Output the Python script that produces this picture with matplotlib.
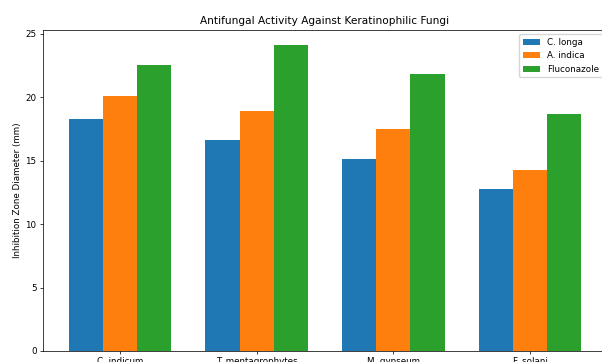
import matplotlib
matplotlib.use("Agg")
import matplotlib.pyplot as plt
import numpy as np

categories = ["C. indicum", "T. mentagrophytes", "M. gypseum", "F. solani"]
c_longa = [18.3, 16.6, 15.1, 12.8]
a_indica = [20.1, 18.9, 17.5, 14.3]
fluconazole = [22.55, 24.1, 21.8, 18.7]

s = 0.66
f = 0.63
plt.rcParams.update({
    "font.size": 10 * f,
    "axes.linewidth": 0.8 * s,
    "xtick.major.width": 0.8 * s,
    "ytick.major.width": 0.8 * s,
    "xtick.major.size": 3.5 * s,
    "ytick.major.size": 3.5 * s,
    "xtick.major.pad": 3.5 * s,
    "ytick.major.pad": 3.5 * s,
})

fig = plt.figure(figsize=(6.02, 3.62), dpi=100)
ax = fig.add_axes([43 / 602, 11 / 362, 564 / 602, 321 / 362])

x = np.arange(len(categories))
w = 0.25
ax.bar(x - w, c_longa, w, label="C. longa", color="#1f77b4")
ax.bar(x, a_indica, w, label="A. indica", color="#ff7f0e")
ax.bar(x + w, fluconazole, w, label="Fluconazole", color="#2ca02c")

ax.set_xticks(x)
ax.set_xticklabels(categories)
ax.set_ylabel("Inhibition Zone Diameter (mm)", labelpad=4 * s)
ax.set_title("Antifungal Activity Against Keratinophilic Fungi", fontsize=12 * f, pad=6 * s)
ax.legend(loc="upper right", fontsize=10 * f, borderaxespad=0.5, handlelength=2.0)

fig.savefig("out.png", dpi=100)
